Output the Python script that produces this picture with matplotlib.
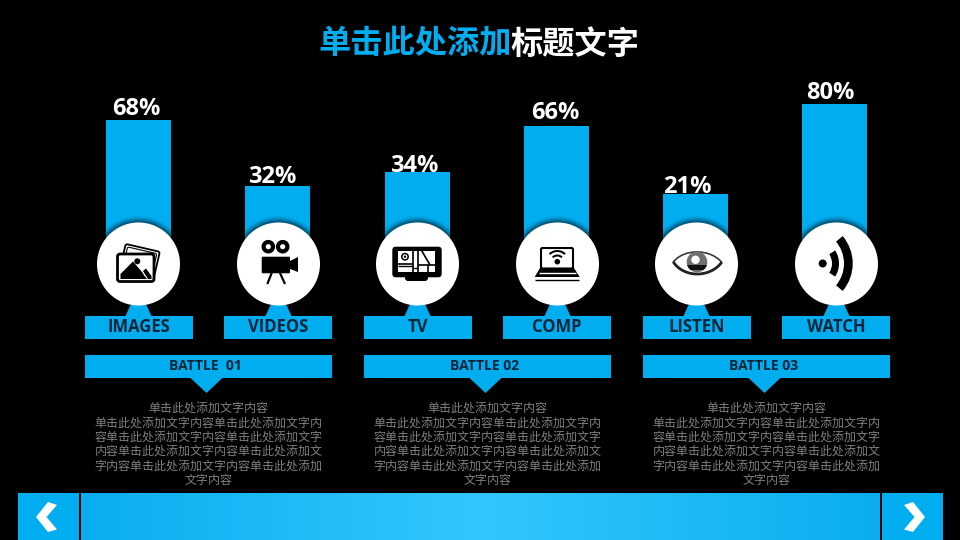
import numpy as np
import matplotlib
matplotlib.use("Agg")
import matplotlib.pyplot as plt
from matplotlib.patches import Circle, Rectangle, Polygon, FancyBboxPatch, Wedge, PathPatch
from matplotlib.path import Path
from matplotlib.colors import LinearSegmentedColormap
from matplotlib.transforms import Affine2D

# ---- data ----
categories = ["IMAGES", "VIDEOS", "TV", "COMP", "LISTEN", "WATCH"]
percent_values = [68, 32, 34, 66, 21, 80]
drawn_bar_heights = [144, 78, 92, 138, 70, 160]   # height of each column above the circle centre
group_labels = ["BATTLE  01", "BATTLE 02", "BATTLE 03"]
title_blue = "单击此处添加"
title_white = "标题文字"
body_lines = ["单击此处添加文字内容",
              "单击此处添加文字内容单击此处添加文字内",
              "容单击此处添加文字内容单击此处添加文字",
              "内容单击此处添加文字内容单击此处添加文",
              "字内容单击此处添加文字内容单击此处添加",
              "文字内容"]

# ---- style / layout ----
BLUE = "#00ADEF"
NAVY = "#0A2439"
CJK = ["Noto Sans CJK SC", "DejaVu Sans"]
LATIN = "Open Sans"
bar_centers = [138.5, 277.5, 417.5, 556.5, 695.5, 834.5]
circle_centers = [138.5, 278.5, 417.5, 557.5, 696.5, 836.5]
label_lefts = [85, 224, 364, 503, 643, 782]
group_lefts = [85, 364, 643]
label_x = [136, 272, 414, 555, 687.5, 830]
label_offsets = [11, 9, 6, 13, 7, 11]
base_y = 264

fig = plt.figure(figsize=(9.6, 5.4), dpi=100, facecolor="black")
ax = fig.add_axes([0, 0, 1, 1])
ax.set_facecolor("black")
ax.axis("off")

# columns
tops = [base_y - h for h in drawn_bar_heights]
bars = ax.bar(bar_centers, drawn_bar_heights, bottom=tops, width=65, color=BLUE, linewidth=0, zorder=1)

# circle shadow on the columns
for cx, b in zip(circle_centers, bars):
    for r, a in zip([48, 46.5, 45, 43.5], [0.06, 0.1, 0.16, 0.24]):
        s = Circle((cx, base_y), r, fc="black", ec="none", alpha=a, zorder=2)
        ax.add_patch(s)
        s.set_clip_path(b)

# percentage labels
for x, t, v, off in zip(label_x, tops, percent_values, label_offsets):
    ax.text(x, t - off, f"{v}%", color="white", fontsize=17, fontweight="bold",
            family=LATIN, ha="center", va="center", zorder=5)

# connector + category label boxes
for cx, left, cat in zip(circle_centers, label_lefts, categories):
    ax.add_patch(Polygon([(cx - 8, 305), (cx + 8, 305), (cx + 13, 316), (cx - 13, 316)],
                         fc=BLUE, ec="none", zorder=2))
    ax.add_patch(Rectangle((left, 316), 108, 22.5, fc=BLUE, ec="none", zorder=2))
    ax.text(left + 54, 326.5, cat, color=NAVY, fontsize=12, fontweight="bold",
            family=LATIN, ha="center", va="center", zorder=5)

# white circles
for cx in circle_centers:
    ax.add_patch(Circle((cx, base_y), 41.5, fc="white", ec="none", zorder=3))

# group bars and text blocks
for left, lab in zip(group_lefts, group_labels):
    ax.add_patch(Rectangle((left, 355), 247, 23, fc=BLUE, ec="none", zorder=2))
    mid = left + 123.5
    tip = mid - 2
    ax.add_patch(Polygon([(tip - 16, 378), (tip + 16, 378), (tip, 393)], fc=BLUE, ec="none", zorder=2))
    ax.text(mid - 3, 365.5, lab, color=NAVY, fontsize=10, fontweight="bold", family=LATIN,
            ha="center", va="center", zorder=5)
    for i, line in enumerate(body_lines):
        ax.text(mid, 408.5 + i * 14.35, line, color="#808080", fontsize=8.65, family=CJK,
                ha="center", va="center", zorder=5)

# title
fs = 23.2
ax.text(318.5, 44, title_blue, color=BLUE, fontsize=fs, fontweight="bold", family=CJK,
        ha="left", va="center")
ax.text(510.5, 44, title_white, color="white", fontsize=fs, fontweight="bold", family=CJK,
        ha="left", va="center")

# ---- icons ----
Z = 6
def rrect(x, y, w, h, r, fc="none", ec="none", lw=0, z=Z, transform=None):
    p = FancyBboxPatch((x + r, y + r), w - 2 * r, h - 2 * r, boxstyle=f"round,pad={r}",
                       fc=fc, ec=ec, lw=lw, zorder=z)
    ax.add_patch(p)
    if transform is not None:
        p.set_transform(transform)
    return p

def poly(pts, fc="black", z=Z, **kw):
    p = Polygon(pts, fc=fc, ec=kw.pop("ec", "none"), zorder=z, **kw)
    ax.add_patch(p)
    return p

def seg(xs, ys, color="black", lw=1.0, z=Z):
    ax.plot(xs, ys, color=color, lw=lw, zorder=z, solid_capstyle="butt")

# images icon
rot = Affine2D().rotate_deg_around(139.5, 262, 13) + ax.transData
rrect(122, 247.5, 35, 29, 2, fc="white", ec="black", lw=1.3, transform=rot)
rrect(124.5, 250, 30, 24, 1.5, fc="white", ec="black", lw=0.8, transform=rot)
rrect(117.5, 254, 36.5, 27.5, 2.5, fc="white", ec="black", lw=2)
poly([(120.5, 279), (120.5, 274), (133, 261.5), (142, 272), (144.5, 276), (147, 279)])
poly([(143, 271), (146, 268.5), (151.5, 276), (151.5, 279), (148, 279)])
ax.add_patch(Circle((137.3, 261.3), 3, fc="black", ec="none", zorder=Z))

# video camera icon
for x in (268.3, 282.7):
    ax.add_patch(Circle((x, 246.7), 4.7, fc="none", ec="black", lw=3, zorder=Z))
rrect(261.7, 256.7, 28.3, 16.6, 1, fc="black")
poly([(290, 261), (298, 257), (298, 272), (290, 269)])
seg([271.7, 267.3], [273, 284], lw=1.6)
seg([280, 285], [273, 284], lw=1.6)

# screen icon
rrect(392.3, 246.7, 49.4, 30.6, 3.5, fc="black")
poly([(405, 277), (428, 277), (428, 279), (426, 281), (407, 281), (405, 279)])
ax.add_patch(Rectangle((398.3, 250.7), 36.7, 21.6, fc="white", ec="none", zorder=Z))
seg([412.5, 412.5], [250.7, 272.3], lw=1.2, z=Z + 1)
seg([418.3, 418.3], [250.7, 272.3], lw=1.2, z=Z + 1)
seg([398.3, 412.5], [263.8, 263.8], lw=1.2, z=Z + 1)
seg([398.3, 412.5], [266.0, 266.0], lw=1.0, z=Z + 1)
seg([412.5, 418.3], [268, 268], lw=1.0, z=Z + 1)
seg([418.3, 435], [265, 265], lw=1.2, z=Z + 1)
seg([421.7, 430], [250.7, 265], lw=1.2, z=Z + 1)
seg([428, 428], [265, 272.3], lw=1.2, z=Z + 1)
ax.add_patch(Circle((405, 256.7), 3.2, fc="white", ec="black", lw=1.1, zorder=Z + 1))
ax.add_patch(Circle((405, 256.7), 1.2, fc="black", ec="none", zorder=Z + 1))

# laptop icon
rrect(541, 248, 32, 20.5, 1.5, fc="white", ec="black", lw=1.5)
poly([(540, 268), (574, 268), (579.7, 277), (534.7, 277)])
seg([538.5, 576], [272.5, 272.5], color="white", lw=1.0, z=Z + 1)
seg([535, 578.5], [279.6, 279.6], lw=1.0)
ax.add_patch(Circle((557.3, 261.7), 2.8, fc="black", ec="none", zorder=Z + 1))
for r in (7.5, 12):
    ax.add_patch(Wedge((557.3, 262), r, 225, 315, width=2, fc="black", ec="none", zorder=Z + 1))

# eye icon
eye_verts = [(673.3, 262), (684, 248.5), (710, 248.5), (721.7, 262.3),
             (710, 278), (684, 278), (673.3, 262), (673.3, 262)]
eye_codes = [Path.MOVETO, Path.CURVE4, Path.CURVE4, Path.CURVE4,
             Path.CURVE4, Path.CURVE4, Path.CURVE4, Path.CLOSEPOLY]
eye = PathPatch(Path(eye_verts, eye_codes), fc="white", ec="#3a3a3a", lw=1.2, zorder=Z)
ax.add_patch(eye)
c1 = Circle((697, 262), 10.3, fc="#707070", ec="none", zorder=Z)
ax.add_patch(c1)
c2 = Rectangle((686, 265), 22, 5, fc="#111111", ec="none", zorder=Z)
ax.add_patch(c2)
c2.set_clip_path(c1)
ax.add_patch(Circle((695.5, 259.8), 4.2, fc="white", ec="none", zorder=Z))
lid_verts = [(721.7, 262.3), (710, 278), (684, 278), (673.3, 262)]
lid = PathPatch(Path(lid_verts, [Path.MOVETO, Path.CURVE4, Path.CURVE4, Path.CURVE4]),
                fc="none", ec="#222222", lw=2, zorder=Z)
ax.add_patch(lid)

# signal icon
ax.add_patch(Circle((822.7, 263.5), 4, fc="black", ec="none", zorder=Z))
ax.add_patch(Wedge((815, 263.5), 24, -33, 33, width=7, fc="black", ec="none", zorder=Z))
ax.add_patch(Wedge((810, 263.5), 42.7, -40, 40, width=8.7, fc="black", ec="none", zorder=Z))

# ---- footer ----
cmap = LinearSegmentedColormap.from_list("foot", ["#0AAEEF", "#33C6FF", "#0AAEEF"])
ax.imshow(np.linspace(0, 1, 256).reshape(1, -1), extent=(81, 879.5, 540, 493), cmap=cmap,
          aspect="auto", zorder=1, interpolation="bilinear")
ax.add_patch(Rectangle((18, 493), 61, 47, fc=BLUE, ec="none", zorder=1))
ax.add_patch(Rectangle((881.7, 493), 61, 47, fc=BLUE, ec="none", zorder=1))
poly([(48, 502), (57, 505), (46.5, 517), (57, 529.5), (48, 532), (36, 517)], fc="white", z=3)
poly([(913, 502), (904, 505), (914.5, 517), (904, 529.5), (913, 532), (925, 517)], fc="white", z=3)

ax.set_xlim(0, 960)
ax.set_ylim(540, 0)
fig.savefig("out.png", dpi=100, facecolor="black")
